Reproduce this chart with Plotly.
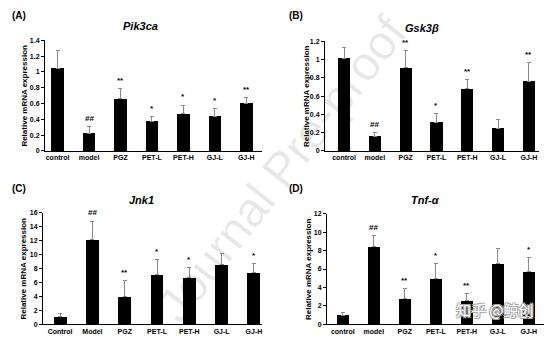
import plotly.graph_objects as go

# Group labels
groups_lower = ["control", "model", "PGZ", "PET-L", "PET-H", "GJ-L", "GJ-H"]
groups_upper = ["Control", "Model", "PGZ", "PET-L", "PET-H", "GJ-L", "GJ-H"]

# Relative mRNA expression (mean) and mean + SD
pik3ca_mean = [1.04, 0.22, 0.66, 0.37, 0.47, 0.44, 0.60]
pik3ca_top = [1.27, 0.31, 0.79, 0.43, 0.58, 0.54, 0.67]
pik3ca_sig = ["", "##", "**", "*", "*", "*", "**"]

gsk3b_mean = [1.01, 0.16, 0.91, 0.31, 0.68, 0.25, 0.76]
gsk3b_top = [1.13, 0.20, 1.10, 0.41, 0.78, 0.34, 0.97]
gsk3b_sig = ["", "##", "**", "*", "**", "", "**"]

jnk1_mean = [1.1, 12.1, 4.0, 7.1, 6.7, 8.6, 7.4]
jnk1_top = [1.5, 14.8, 6.3, 9.3, 8.1, 10.1, 8.7]
jnk1_sig = ["", "##", "**", "*", "*", "", "*"]

tnfa_mean = [1.0, 8.4, 2.8, 5.0, 2.6, 6.6, 5.7]
tnfa_top = [1.3, 9.6, 3.9, 6.6, 3.3, 8.2, 7.2]
tnfa_sig = ["", "##", "**", "*", "**", "", "*"]

W, H = 554, 346
FONT = "Arial, Liberation Sans"

panels = [
    dict(tag="(A)", title="<i>Pik3ca</i>", cats=groups_lower, mean=pik3ca_mean, top=pik3ca_top,
         sig=pik3ca_sig, x0=45, x1=262, ybot=150, ytop=37, yr=[0, 1.4], dtick=0.2,
         xr=[-0.4, 6.5], tagxy=(10, 12), titlexy=(140, 22), ylabx=25),
    dict(tag="(B)", title="<i>Gsk3β</i>", cats=groups_lower, mean=gsk3b_mean, top=gsk3b_top,
         sig=gsk3b_sig, x0=325, x1=539, ybot=150, ytop=38, yr=[0, 1.2], dtick=0.2,
         xr=[-0.62, 6.33], tagxy=(287, 12), titlexy=(422, 24), ylabx=306),
    dict(tag="(C)", title="<i>Jnk1</i>", cats=groups_upper, mean=jnk1_mean, top=jnk1_top,
         sig=jnk1_sig, x0=43, x1=262, ybot=327, ytop=213, yr=[0, 16], dtick=2,
         xr=[-0.53, 6.25], tagxy=(10, 188), titlexy=(141, 200), ylabx=24),
    dict(tag="(D)", title="<i>Tnf-α</i>", cats=groups_lower, mean=tnfa_mean, top=tnfa_top,
         sig=tnfa_sig, x0=327, x1=544, ybot=327, ytop=214, yr=[0, 12], dtick=2,
         xr=[-0.51, 6.49], tagxy=(287, 188), titlexy=(425, 200), ylabx=308),
]

fig = go.Figure()
annotations = []
layout = {}

# Faint diagonal watermark behind the panels
annotations.append(dict(
    x=282 / W, y=1 - 168 / H, xref="paper", yref="paper", text="Journal Pre-proof",
    showarrow=False, textangle=-52, xanchor="center", yanchor="middle",
    font=dict(family=FONT, size=48, color="rgba(0,0,0,0.09)")))

for i, p in enumerate(panels):
    n = "" if i == 0 else str(i + 1)
    xa, ya = "x" + n, "y" + n
    xs = list(range(len(p["cats"])))
    fig.add_trace(go.Bar(
        x=xs, y=p["mean"], xaxis=xa, yaxis=ya, width=0.4,
        marker=dict(color="black", line=dict(width=0)),
        error_y=dict(type="data", symmetric=False,
                     array=[t - m for t, m in zip(p["top"], p["mean"])],
                     arrayminus=[0] * len(xs), color="#8a8a8a", thickness=1, width=2),
        showlegend=False,
    ))
    layout["xaxis" + n] = dict(
        domain=[p["x0"] / W, p["x1"] / W], anchor=ya, range=p["xr"],
        tickmode="array", tickvals=xs, ticktext=p["cats"],
        showline=True, linecolor="black", linewidth=1, ticks="", showgrid=False,
        zeroline=False, fixedrange=True,
        tickfont=dict(family=FONT, size=7, color="black", weight="bold"),
    )
    layout["yaxis" + n] = dict(
        domain=[1 - p["ybot"] / H, 1 - p["ytop"] / H], anchor=xa, range=p["yr"],
        dtick=p["dtick"], showline=True, linecolor="black", linewidth=1,
        ticks="outside", ticklen=3, tickcolor="black", showgrid=False, zeroline=False,
        fixedrange=True, tickformat="~g",
        tickfont=dict(family=FONT, size=7, color="black", weight="bold"),
    )
    span = p["yr"][1]
    for x, t, s in zip(xs, p["top"], p["sig"]):
        if s:
            annotations.append(dict(
                x=x, y=t + span * 0.015, xref=xa, yref=ya, text=s, showarrow=False,
                yanchor="bottom", font=dict(family=FONT, size=8, color="#000000",
                                             weight="bold")))
    annotations.append(dict(
        x=p["tagxy"][0] / W, y=1 - p["tagxy"][1] / H, xref="paper", yref="paper",
        text=p["tag"], showarrow=False, xanchor="left", yanchor="middle",
        font=dict(family=FONT, size=10, color="black", weight="bold")))
    annotations.append(dict(
        x=p["titlexy"][0] / W, y=1 - p["titlexy"][1] / H, xref="paper", yref="paper",
        text=p["title"], showarrow=False, xanchor="center", yanchor="middle",
        font=dict(family=FONT, size=11, color="black", weight="bold")))
    annotations.append(dict(
        x=p["ylabx"] / W, y=1 - (p["ybot"] + p["ytop"]) / 2 / H, xref="paper", yref="paper",
        text="Relative mRNA expression", showarrow=False, textangle=-90,
        xanchor="center", yanchor="middle",
        font=dict(family=FONT, size=8, color="black", weight="bold")))

# Outlined source mark in the lower right corner, sitting just above the axis
annotations.append(dict(
    x=495 / W, y=1 - 325 / H, xref="paper", yref="paper", text="知乎 @鲸创",
    showarrow=False, xanchor="center", yanchor="bottom",
    font=dict(family="Noto Sans CJK SC", size=15, color="white",
              shadow="-1px -1px 0 #aaa, 1px -1px 0 #aaa, -1px 1px 0 #aaa, 1px 1px 0 #aaa")))

fig.update_layout(
    width=W, height=H, margin=dict(l=0, r=0, t=0, b=0),
    paper_bgcolor="white", plot_bgcolor="white",
    annotations=annotations, bargap=0, **layout,
)

fig.write_html("out.html", config={"displayModeBar": False})
